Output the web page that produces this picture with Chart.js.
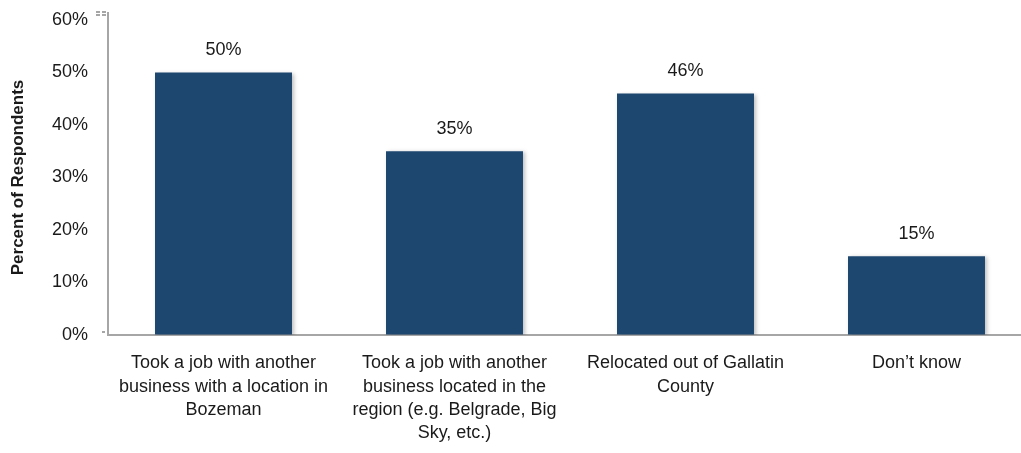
<!DOCTYPE html>
<html lang="en">
<head>
    <meta charset="UTF-8">
    <title>Percent of Respondents</title>
    <script src="https://cdn.jsdelivr.net/npm/chart.js"></script>
    <style>
        html, body {
            margin: 0;
            padding: 0;
            background: #ffffff;
            overflow: hidden;
        }
        #wrap {
            width: 1033px;
            height: 453px;
        }
    </style>
</head>
<body>
    <div id="wrap"><canvas id="chart" width="1033" height="453"></canvas></div>

    <script>
        // Category labels, split into lines
        const categories = [
            ['Took a job with another', 'business with a location in', 'Bozeman'],
            ['Took a job with another', 'business located in the', 'region (e.g. Belgrade, Big', 'Sky, etc.)'],
            ['Relocated out of Gallatin', 'County'],
            ['Don\u2019t know']
        ];
        const percents = [50, 35, 46, 15];
        const yTicks = [0, 10, 20, 30, 40, 50, 60];

        const FONT = "'Liberation Sans', Arial, sans-serif";
        const TEXT = '#1a1a1a';
        const AXIS = '#a6a6a6';

        // value labels above each bar
        const valueLabels = {
            id: 'valueLabels',
            afterDatasetsDraw(chart) {
                const ctx = chart.ctx;
                const meta = chart.getDatasetMeta(0);
                ctx.save();
                ctx.font = '18px ' + FONT;
                ctx.fillStyle = TEXT;
                ctx.textAlign = 'center';
                ctx.textBaseline = 'middle';
                meta.data.forEach((bar, i) => {
                    ctx.fillText(percents[i] + '%', bar.x, bar.y - 22);
                });
                ctx.restore();
            }
        };

        // soft shadow behind the bars
        const barShadow = {
            id: 'barShadow',
            beforeDatasetsDraw(chart) {
                const ctx = chart.ctx;
                ctx.save();
                ctx.shadowColor = 'rgba(0,0,0,0.25)';
                ctx.shadowBlur = 4;
                ctx.shadowOffsetX = 2;
                ctx.shadowOffsetY = 1;
            },
            afterDatasetsDraw(chart) {
                chart.ctx.restore();
            }
        };

        // small marks on the value axis at its two ends
        const axisMarks = {
            id: 'axisMarks',
            afterDraw(chart) {
                const ctx = chart.ctx;
                const y = chart.scales.y;
                const x0 = chart.chartArea.left;
                ctx.save();
                ctx.strokeStyle = AXIS;
                ctx.lineWidth = 2;
                ctx.beginPath();
                ctx.moveTo(x0 - 6, y.getPixelForValue(0) - 3);
                ctx.lineTo(x0 - 3, y.getPixelForValue(0) - 3);
                ctx.stroke();
                const top = y.getPixelForValue(60) - 8;
                ctx.setLineDash([4, 2]);
                ctx.beginPath();
                ctx.moveTo(x0 - 12, top);
                ctx.lineTo(x0, top);
                ctx.moveTo(x0 - 12, top + 3);
                ctx.lineTo(x0, top + 3);
                ctx.stroke();
                ctx.setLineDash([]);
                ctx.beginPath();
                ctx.moveTo(x0, top);
                ctx.lineTo(x0, y.getPixelForValue(60));
                ctx.stroke();
                ctx.restore();
            }
        };

        new Chart(document.getElementById('chart'), {
            type: 'bar',
            data: {
                labels: categories,
                datasets: [{
                    data: percents,
                    backgroundColor: '#1e4770',
                    borderWidth: 0,
                    barPercentage: 0.593,
                    categoryPercentage: 1.0
                }]
            },
            options: {
                responsive: false,
                animation: false,
                layout: { padding: { top: 20, left: 0, right: 1, bottom: 0 } },
                plugins: {
                    legend: { display: false },
                    tooltip: { enabled: false }
                },
                scales: {
                    x: {
                        grid: { display: false, drawTicks: false },
                        border: { color: AXIS, width: 2 },
                        ticks: {
                            color: TEXT,
                            font: { family: FONT, size: 18, lineHeight: 1.28 },
                            padding: 17,
                            maxRotation: 0,
                            autoSkip: false
                        },
                        afterFit(scale) {
                            scale.height = 118;
                            scale.paddingLeft = 0;
                            scale.paddingRight = 0;
                        }
                    },
                    y: {
                        min: 0,
                        max: 60,
                        afterBuildTicks(scale) {
                            scale.ticks = yTicks.map(v => ({ value: v }));
                        },
                        grid: {
                            drawOnChartArea: false,
                            tickLength: 5,
                            color: 'rgba(0,0,0,0)'
                        },
                        border: { color: AXIS, width: 2 },
                        ticks: {
                            color: TEXT,
                            font: { family: FONT, size: 18 },
                            padding: 15,
                            callback: v => v + '%'
                        },
                        title: {
                            display: true,
                            text: 'Percent of Respondents',
                            color: TEXT,
                            font: { family: FONT, size: 17, weight: 'bold' },
                            padding: { top: 8, bottom: 0 }
                        },
                        afterFit(scale) {
                            scale.width = 108;
                            scale.paddingTop = 0;
                            scale.paddingBottom = 0;
                        }
                    }
                }
            },
            plugins: [barShadow, valueLabels, axisMarks]
        });
    </script>
</body>
</html>
